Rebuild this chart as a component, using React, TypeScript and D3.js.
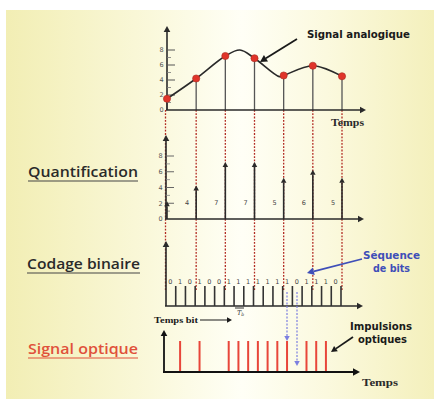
import React from 'react';
import * as d3 from 'd3';

// ---- data ----
const sampleT = [0, 1, 2, 3, 4, 5, 6];
const sampleV = [1.5, 4.2, 7.2, 6.9, 4.6, 5.9, 4.5];
const curveT = [0, 1, 2, 2.5, 3, 3.85, 4, 5, 6];
const curveV = [1.5, 4.2, 7.2, 8.0, 6.9, 4.45, 4.6, 5.9, 4.5];
const yTickValues = [0, 2, 4, 6, 8];
const minorTickValues = [1, 3, 5, 7];
const quantV = [2, 4, 7, 7, 5, 6, 5];
const bits = [0, 1, 0, 1, 0, 0, 1, 1, 1, 1, 1, 1, 1, 0, 1, 1, 1, 0];

const W = 437;
const H = 402;

const AX = '#2a2a2a';

function Arrow({ x1, y1, x2, y2, color, width = 1.5, head = 5, dash }: any) {
  const ang = Math.atan2(y2 - y1, x2 - x1);
  const hx = x2 - head * Math.cos(ang);
  const hy = y2 - head * Math.sin(ang);
  const px = Math.sin(ang) * head * 0.55;
  const py = -Math.cos(ang) * head * 0.55;
  return (
    <g>
      <line x1={x1} y1={y1} x2={hx} y2={hy} stroke={color} strokeWidth={width} strokeDasharray={dash} />
      <path d={`M${x2},${y2}L${hx + px},${hy + py}L${hx - px},${hy - py}Z`} fill={color} />
    </g>
  );
}

export default function App() {
  const x = d3.scaleLinear().domain([0, 6]).range([167, 342]);
  const yTop = d3.scaleLinear().domain([0, 8]).range([110, 50]);
  const yQ = d3.scaleLinear().domain([0, 8]).range([219, 156]);
  const xb = d3.scaleBand<number>().domain(d3.range(bits.length)).range([166, 341]).paddingInner(0);
  const bw = xb.bandwidth();

  const curvePts: [number, number][] = curveT.map((t, i) => [x(t), yTop(curveV[i])]);
  const line = d3.line().curve(d3.curveCatmullRom.alpha(0.5))(curvePts) || '';

  const bitBase = 306;
  const optBase = 372;

  const leftFont = '"Open Sans", "DejaVu Sans", sans-serif';
  const boldFont = '"DejaVu Sans", sans-serif';

  return (
    <svg width={W} height={H} style={{ position: 'absolute', left: 0, top: 0 }}>
      <defs>
        <linearGradient id="bg" x1="0" x2="1" y1="0" y2="0">
          <stop offset="0" stopColor="#f2eeb4" />
          <stop offset="0.3" stopColor="#f9f7d6" />
          <stop offset="0.55" stopColor="#fffff6" />
          <stop offset="0.75" stopColor="#fbf9de" />
          <stop offset="1" stopColor="#f4f0bc" />
        </linearGradient>
      </defs>
      <rect x={0} y={0} width={W} height={H} fill="#ffffff" />
      <rect x={6} y={10} width={428} height={389} fill="url(#bg)" />

      {/* ---- red dashed sampling lines ---- */}
      {sampleT.map((t, i) => (
        <line key={'d' + i} x1={x(t) - (i === 0 ? 1.5 : 0)} x2={x(t) - (i === 0 ? 1.5 : 0)} y1={yTop(0)} y2={290}
          stroke="#b22a22" strokeWidth={1.3} strokeDasharray="1.8,1.5" />
      ))}

      {/* ---- top: analog signal ---- */}
      {sampleT.map((t, i) => (
        <line key={'s' + i} x1={x(t)} x2={x(t)} y1={yTop(sampleV[i])} y2={yTop(0)} stroke="#555" strokeWidth={1.3} />
      ))}
      <Arrow x1={167} y1={yTop(0)} x2={167} y2={26} color={AX} width={1.6} head={6} />
      <Arrow x1={166} y1={yTop(0)} x2={366} y2={yTop(0)} color={AX} width={1.6} head={6} />
      {yTickValues.map((v) => (
        <g key={'t' + v}>
          {v > 0 && <line x1={167} x2={175} y1={yTop(v)} y2={yTop(v)} stroke="#555" strokeWidth={1} />}
          <text x={161.5} y={yTop(v) + 2.3} fontSize={6.5} textAnchor="middle" fill="#555" fontFamily="DejaVu Sans">{v}</text>
        </g>
      ))}
      {minorTickValues.map((v) => (
        <line key={'m' + v} x1={167} x2={171} y1={yTop(v)} y2={yTop(v)} stroke="#777" strokeWidth={0.8} />
      ))}
      <path d={line} fill="none" stroke="#2a2a2a" strokeWidth={1.6} />
      {sampleT.map((t, i) => (
        <circle key={'c' + i} cx={x(t)} cy={yTop(sampleV[i])} r={3.6} fill="#e0342a" stroke="#a82a20" strokeWidth={0.6} />
      ))}
      <text x={307} y={38} fontSize={10.5} fontWeight="bold" fontFamily={boldFont} fill="#1a1a1a" textLength={103} lengthAdjust="spacingAndGlyphs">Signal analogique</text>
      <Arrow x1={297} y1={39} x2={260} y2={62} color="#1a1a1a" width={1.8} head={7} />
      <text x={331} y={126} fontSize={11} fontWeight="bold" fontFamily='"Liberation Serif", serif' fill="#2a2a2a" textLength={33} lengthAdjust="spacingAndGlyphs">Temps</text>

      {/* ---- quantification ---- */}
      <Arrow x1={166} y1={yQ(0)} x2={166} y2={135} color={AX} width={1.6} head={6} />
      <Arrow x1={165} y1={yQ(0)} x2={364} y2={yQ(0)} color={AX} width={1.6} head={6} />
      {yTickValues.map((v) => (
        <g key={'qt' + v}>
          {v > 0 && <line x1={166} x2={174} y1={yQ(v)} y2={yQ(v)} stroke="#666" strokeWidth={1} />}
          <text x={160.5} y={yQ(v) + 2.3} fontSize={6.5} textAnchor="middle" fill="#555" fontFamily="DejaVu Sans">{v}</text>
        </g>
      ))}
      {minorTickValues.map((v) => (
        <line key={'qm' + v} x1={166} x2={170} y1={yQ(v)} y2={yQ(v)} stroke="#888" strokeWidth={0.8} />
      ))}
      {quantV.map((v, i) => (
        <g key={'q' + i}>
          <Arrow x1={x(sampleT[i])} y1={yQ(0)} x2={x(sampleT[i])} y2={yQ(v) - 2} color="#2a2a2a" width={1.6} head={5} />
          {i > 0 && (
            <text x={x(sampleT[i]) - 9} y={205} fontSize={6.5} textAnchor="middle" fill="#444" fontFamily="DejaVu Sans">{v}</text>
          )}
        </g>
      ))}

      {/* ---- codage binaire ---- */}
      <Arrow x1={166} y1={bitBase} x2={166} y2={241} color={AX} width={1.6} head={6} />
      <Arrow x1={165} y1={bitBase} x2={363} y2={bitBase} color={AX} width={1.6} head={6} />
      {bits.map((b, i) => (
        <g key={'b' + i}>
          <line x1={(xb(i) as number) + bw} x2={(xb(i) as number) + bw} y1={286} y2={bitBase} stroke="#333" strokeWidth={1.6} />
          <text x={(xb(i) as number) + bw * 0.45} y={284} fontSize={6.5} textAnchor="middle" fill="#444" fontFamily="DejaVu Sans">{b}</text>
        </g>
      ))}
      <line x1={235} x2={244} y1={308} y2={308} stroke="#333" strokeWidth={1} />
      <text x={237} y={315} fontSize={6.5} fontStyle="italic" fill="#333" fontFamily="DejaVu Serif">T<tspan fontSize={4.5} dy={1}>b</tspan></text>
      <text x={154} y={323} fontSize={8} fontWeight="bold" fontFamily='"Liberation Serif", serif' fill="#1a1a1a" textLength={44} lengthAdjust="spacingAndGlyphs">Temps bit</text>
      <Arrow x1={200} y1={320} x2={232} y2={320} color="#1a1a1a" width={1} head={5} />
      <text x={363} y={259} fontSize={10} fontWeight="bold" fontFamily={boldFont} fill="#3f4fb8" textLength={57} lengthAdjust="spacingAndGlyphs">Séquence</text>
      <text x={373} y={272} fontSize={10} fontWeight="bold" fontFamily={boldFont} fill="#3f4fb8" textLength={37} lengthAdjust="spacingAndGlyphs">de bits</text>
      <Arrow x1={362} y1={259} x2={307} y2={273} color="#3f4fb8" width={1.8} head={7} />

      {/* blue dashed arrows */}
      <Arrow x1={287} y1={292} x2={287} y2={341} color="#7c7fe0" width={1.2} head={5} dash="2,1.5" />
      <Arrow x1={297} y1={292} x2={297} y2={366} color="#7c7fe0" width={1.2} head={5} dash="2,1.5" />

      {/* ---- signal optique ---- */}
      <Arrow x1={164} y1={optBase} x2={164} y2={330} color="#111" width={1.8} head={6} />
      <Arrow x1={163} y1={optBase} x2={360} y2={optBase} color="#111" width={1.8} head={7} />
      {bits.map((b, i) =>
        b === 1 ? (
          <line key={'p' + i} x1={(xb(i) as number) + bw * 0.45} x2={(xb(i) as number) + bw * 0.45} y1={341} y2={optBase - 1}
            stroke="#e8463a" strokeWidth={2} />
        ) : null
      )}
      <text x={350} y={330} fontSize={10} fontWeight="bold" fontFamily={boldFont} fill="#1a1a1a" textLength={62} lengthAdjust="spacingAndGlyphs">Impulsions</text>
      <text x={358} y={343} fontSize={10} fontWeight="bold" fontFamily={boldFont} fill="#1a1a1a" textLength={49} lengthAdjust="spacingAndGlyphs">optiques</text>
      <Arrow x1={353} y1={337} x2={331} y2={352} color="#1a1a1a" width={1.8} head={6} />
      <text x={362} y={386} fontSize={11} fontWeight="bold" fontFamily='"Liberation Serif", serif' fill="#2a2a2a" textLength={36} lengthAdjust="spacingAndGlyphs">Temps</text>

      {/* ---- left labels ---- */}
      <text x={28} y={177} fontSize={15} fontWeight={600} fontFamily={leftFont} fill="#2a2a2a" textLength={110} lengthAdjust="spacingAndGlyphs">Quantification</text>
      <line x1={28} x2={138} y1={181} y2={181} stroke="#444" strokeWidth={1.2} />
      <text x={27} y={269} fontSize={15} fontWeight={600} fontFamily={leftFont} fill="#2a2a2a" textLength={113} lengthAdjust="spacingAndGlyphs">Codage binaire</text>
      <line x1={27} x2={140} y1={273} y2={273} stroke="#444" strokeWidth={1.2} />
      <text x={28} y={354} fontSize={15} fontWeight={600} fontFamily={leftFont} fill="#e0503a" textLength={110} lengthAdjust="spacingAndGlyphs">Signal optique</text>
      <line x1={28} x2={138} y1={358} y2={358} stroke="#e0503a" strokeWidth={1.2} />
    </svg>
  );
}
